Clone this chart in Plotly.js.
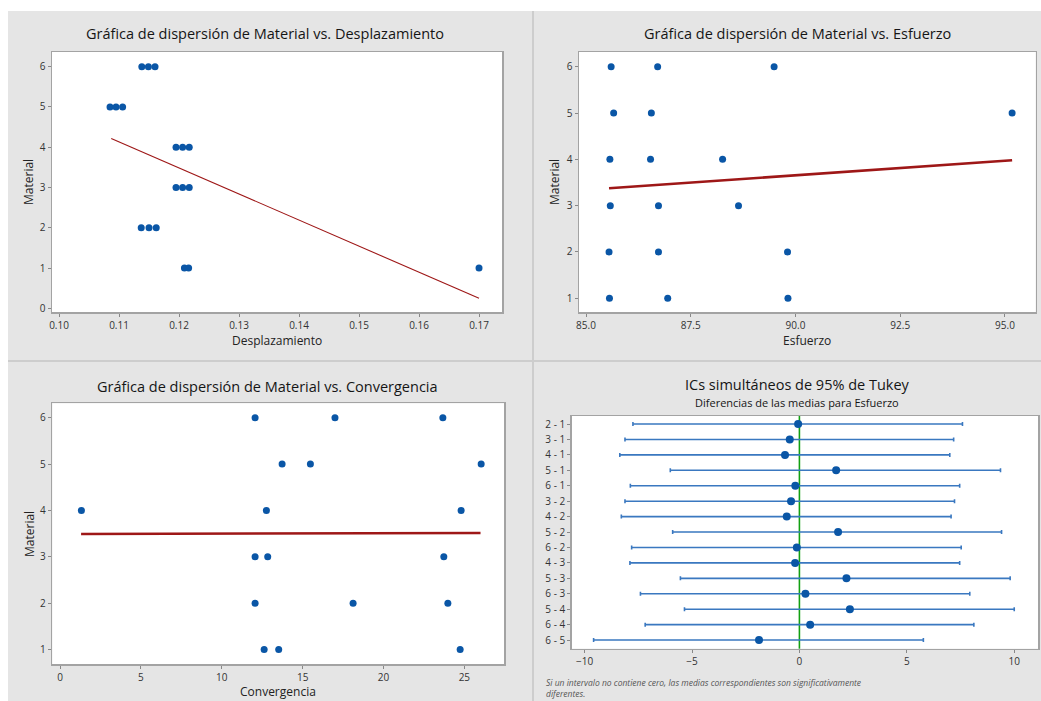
<!DOCTYPE html>
<html>
<head>
<meta charset="utf-8">
<script src="https://cdn.plot.ly/plotly-3.0.1.min.js"></script>
<style>html,body{margin:0;padding:0;background:#fff;}#chart{width:1041px;height:701px;}</style>
</head>
<body>
<div id="chart"></div>
<script>
// ---- Data ----
const material = [1,1,1, 2,2,2, 3,3,3, 4,4,4, 5,5,5, 6,6,6];
const desplazamiento = [0.1209,0.1216,0.1700, 0.1137,0.1150,0.1162, 0.1195,0.1206,0.1217, 0.1195,0.1206,0.1217, 0.1085,0.1095,0.1106, 0.1138,0.1149,0.1160];
const esfuerzo = [85.56,86.95,89.82, 85.55,86.73,89.81, 85.58,86.73,88.64, 85.57,86.54,88.26, 85.66,86.56,95.17, 85.60,86.71,89.49];
const convergencia = [12.62,13.52,24.74, 12.06,18.12,23.98, 12.06,12.84,23.73, 1.32,12.76,24.80, 13.73,15.48,26.04, 12.06,17.00,23.67];

const fitDespX = [0.1087, 0.1700];
const fitDespY = [4.22, 0.25];
const fitEsfX = [85.55, 95.17];
const fitEsfY = [3.374, 3.98];
const fitConvX = [1.3, 26.0];
const fitConvY = [3.494, 3.515];

const tukeyPairs = ["2 - 1","3 - 1","4 - 1","5 - 1","6 - 1","3 - 2","4 - 2","5 - 2","6 - 2","4 - 3","5 - 3","6 - 3","5 - 4","6 - 4","6 - 5"];
const tukeyDiff  = [-0.06,-0.45,-0.67, 1.71,-0.19,-0.39,-0.59, 1.80,-0.12,-0.20, 2.19, 0.28, 2.35, 0.50,-1.88];
const tukeyLower = [-7.75,-8.12,-8.36,-6.01,-7.87,-8.12,-8.29,-5.90,-7.81,-7.89,-5.54,-7.40,-5.35,-7.18,-9.58];
const tukeyUpper = [ 7.59, 7.18, 7.00, 9.36, 7.46, 7.22, 7.06, 9.41, 7.53, 7.46, 9.81, 7.93,10.00, 8.12, 5.77];

// ---- Styling ----
const W = 1041, H = 701;
const FONT = "Open Sans, Noto Sans, sans-serif";
const markerColor = "#0a56a6";
const fitColor = "#9e1717";
const px = v => v / W;
const py = v => 1 - v / H;

function axisStyle(extra) {
  return Object.assign({
    showline: true, mirror: true, linecolor: "#a3a3a3", linewidth: 1.5,
    ticks: "outside", ticklen: 3, tickcolor: "#888", tickwidth: 1,
    showgrid: false, zeroline: false,
    tickfont: {family: FONT, size: 10, color: "#333"},
    fixedrange: true
  }, extra);
}

const traces = [
  {x: desplazamiento, y: material, type: "scatter", mode: "markers", xaxis: "x", yaxis: "y",
   marker: {color: markerColor, size: 7}, hoverinfo: "skip"},
  {x: fitDespX, y: fitDespY, type: "scatter", mode: "lines", xaxis: "x", yaxis: "y",
   line: {color: fitColor, width: 1.1}, hoverinfo: "skip"},
  {x: esfuerzo, y: material, type: "scatter", mode: "markers", xaxis: "x2", yaxis: "y2",
   marker: {color: markerColor, size: 7}, hoverinfo: "skip"},
  {x: fitEsfX, y: fitEsfY, type: "scatter", mode: "lines", xaxis: "x2", yaxis: "y2",
   line: {color: fitColor, width: 2.6}, hoverinfo: "skip"},
  {x: convergencia, y: material, type: "scatter", mode: "markers", xaxis: "x3", yaxis: "y3",
   marker: {color: markerColor, size: 7}, hoverinfo: "skip"},
  {x: fitConvX, y: fitConvY, type: "scatter", mode: "lines", xaxis: "x3", yaxis: "y3",
   line: {color: fitColor, width: 2.6}, hoverinfo: "skip"},
  {x: tukeyDiff, y: tukeyPairs, type: "scatter", mode: "markers", xaxis: "x4", yaxis: "y4",
   marker: {color: markerColor, size: 8},
   error_x: {type: "data", symmetric: false,
     array: tukeyUpper.map((u, i) => u - tukeyDiff[i]),
     arrayminus: tukeyDiff.map((d, i) => d - tukeyLower[i]),
     color: "#3a78c0", thickness: 1.6, width: 2},
   hoverinfo: "skip"}
];

const layout = {
  width: W, height: H,
  margin: {l: 0, r: 0, t: 0, b: 0},
  paper_bgcolor: "#e5e5e5",
  plot_bgcolor: "#ffffff",
  showlegend: false,
  font: {family: FONT},
  xaxis: axisStyle({domain: [px(52), px(502)], anchor: "y", range: [0.09883, 0.17383],
    tickvals: [0.10,0.11,0.12,0.13,0.14,0.15,0.16,0.17], tickformat: ".2f"}),
  yaxis: axisStyle({domain: [py(312), py(52)], anchor: "x", range: [-0.09, 6.365],
    tickvals: [0,1,2,3,4,5,6]}),
  xaxis2: axisStyle({domain: [px(579), px(1035.7)], anchor: "y2", range: [84.833, 95.733],
    tickvals: [85, 87.5, 90, 92.5, 95], tickformat: ".1f"}),
  yaxis2: axisStyle({domain: [py(312), py(52)], anchor: "x2", range: [0.704, 6.317],
    tickvals: [1,2,3,4,5,6]}),
  xaxis3: axisStyle({domain: [px(52.3), px(504.3)], anchor: "y3", range: [-0.48, 27.47],
    tickvals: [0,5,10,15,20,25]}),
  yaxis3: axisStyle({domain: [py(664), py(403.3)], anchor: "x3", range: [0.69, 6.31],
    tickvals: [1,2,3,4,5,6]}),
  xaxis4: axisStyle({domain: [px(571.7), px(1038.3)], anchor: "y4", range: [-10.6, 11.12],
    tickvals: [-10,-5,0,5,10]}),
  yaxis4: axisStyle({domain: [py(648.7), py(416)], anchor: "x4", type: "category",
    categoryorder: "array", categoryarray: tukeyPairs, range: [14.56, -0.52]}),
  shapes: [
    {type: "rect", xref: "paper", yref: "paper", x0: 0, x1: 1, y0: py(11), y1: 1,
     fillcolor: "#ffffff", line: {width: 0}, layer: "below"},
    {type: "rect", xref: "paper", yref: "paper", x0: 0, x1: px(8), y0: 0, y1: 1,
     fillcolor: "#ffffff", line: {width: 0}, layer: "below"},
    {type: "line", xref: "paper", yref: "paper", x0: px(533), x1: px(533), y0: 0, y1: py(11),
     line: {color: "#cdcdcd", width: 2}, layer: "below"},
    {type: "line", xref: "paper", yref: "paper", x0: px(8), x1: 1, y0: py(361), y1: py(361),
     line: {color: "#cdcdcd", width: 2}, layer: "below"},
    {type: "line", xref: "x4", yref: "paper", x0: 0, x1: 0, y0: py(648.7), y1: py(416),
     line: {color: "#12a012", width: 1.6}, layer: "below"}
  ],
  annotations: [
    // panel titles
    {text: "Gráfica de dispersión de Material vs. Desplazamiento", xref: "paper", yref: "paper",
     x: px(265), y: py(34), xanchor: "center", yanchor: "middle", showarrow: false,
     font: {family: FONT, size: 14.5, color: "#151515"}},
    {text: "Gráfica de dispersión de Material vs. Esfuerzo", xref: "paper", yref: "paper",
     x: px(797), y: py(34), xanchor: "center", yanchor: "middle", showarrow: false,
     font: {family: FONT, size: 14.5, color: "#151515"}},
    {text: "Gráfica de dispersión de Material vs. Convergencia", xref: "paper", yref: "paper",
     x: px(267), y: py(386), xanchor: "center", yanchor: "middle", showarrow: false,
     font: {family: FONT, size: 14.5, color: "#151515"}},
    {text: "ICs simultáneos de 95% de Tukey", xref: "paper", yref: "paper",
     x: px(797), y: py(384), xanchor: "center", yanchor: "middle", showarrow: false,
     font: {family: FONT, size: 14.5, color: "#151515"}},
    {text: "Diferencias de las medias para Esfuerzo", xref: "paper", yref: "paper",
     x: px(797), y: py(402), xanchor: "center", yanchor: "middle", showarrow: false,
     font: {family: FONT, size: 11, color: "#151515"}},
    // x axis titles
    {text: "Desplazamiento", xref: "paper", yref: "paper", x: px(277), y: py(340),
     xanchor: "center", yanchor: "middle", showarrow: false, font: {family: FONT, size: 12, color: "#222"}},
    {text: "Esfuerzo", xref: "paper", yref: "paper", x: px(807), y: py(340),
     xanchor: "center", yanchor: "middle", showarrow: false, font: {family: FONT, size: 12, color: "#222"}},
    {text: "Convergencia", xref: "paper", yref: "paper", x: px(278), y: py(691),
     xanchor: "center", yanchor: "middle", showarrow: false, font: {family: FONT, size: 12, color: "#222"}},
    // y axis titles
    {text: "Material", xref: "paper", yref: "paper", x: px(28), y: py(182), textangle: -90,
     xanchor: "center", yanchor: "middle", showarrow: false, font: {family: FONT, size: 12, color: "#222"}},
    {text: "Material", xref: "paper", yref: "paper", x: px(554), y: py(182), textangle: -90,
     xanchor: "center", yanchor: "middle", showarrow: false, font: {family: FONT, size: 12, color: "#222"}},
    {text: "Material", xref: "paper", yref: "paper", x: px(29), y: py(534), textangle: -90,
     xanchor: "center", yanchor: "middle", showarrow: false, font: {family: FONT, size: 12, color: "#222"}},
    // footnote
    {text: "<i>Si un intervalo no contiene cero, las medias correspondientes son significativamente<br>diferentes.</i>",
     xref: "paper", yref: "paper", x: px(544), y: py(675), xanchor: "left", yanchor: "top", align: "left",
     showarrow: false, font: {family: FONT, size: 8.5, color: "#555"}}
  ]
};

Plotly.newPlot("chart", traces, layout, {displayModeBar: false, staticPlot: true});
</script>
</body>
</html>
